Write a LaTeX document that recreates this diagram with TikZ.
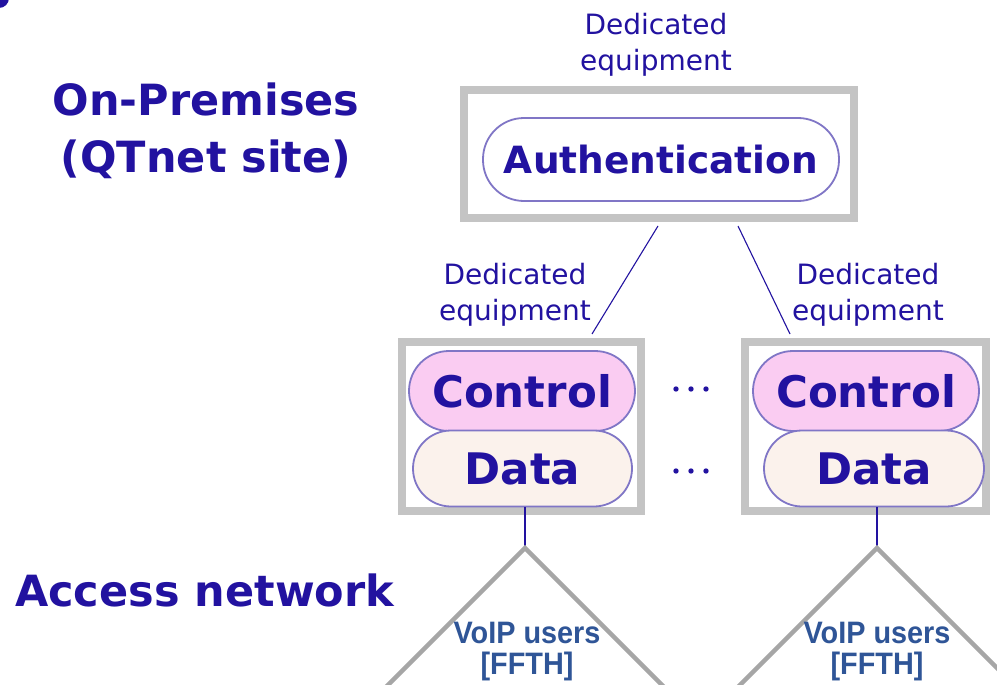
\documentclass[tikz,border=0pt]{standalone}
\usepackage{fontspec}
\setmainfont{DejaVu Sans}
\newfontfamily\userfont[FakeStretch=0.93]{Liberation Sans}
\usetikzlibrary{calc}
\definecolor{inkblue}{RGB}{34,18,160}
\definecolor{pillline}{RGB}{128,118,198}
\definecolor{boxgray}{RGB}{196,196,196}
\definecolor{trigray}{RGB}{166,166,166}
\definecolor{ctrlfill}{RGB}{250,204,242}
\definecolor{datafill}{RGB}{251,242,236}
\definecolor{userblue}{RGB}{47,85,151}
\tikzset{
  x=1pt, y=-1pt,
  graybox/.style={draw=boxgray, line width=8pt, fill=white, inner sep=0pt},
  pill/.style={draw=pillline, line width=1.8pt, inner sep=0pt,
    text=inkblue, font=\fontsize{43.5}{50}\selectfont\bfseries},
  smalllabel/.style={text=inkblue, align=center, inner sep=0pt,
    font=\fontsize{28}{36}\selectfont},
  biglabel/.style={text=inkblue, align=center, inner sep=0pt,
    font=\fontsize{43}{57}\selectfont\bfseries},
  userlabel/.style={text=userblue, align=center, inner sep=0pt,
    font=\userfont\fontsize{31}{31}\selectfont\bfseries},
  link/.style={draw=inkblue, line width=1.1pt},
  trileg/.style={draw=trigray, line width=4.5pt},
  dot/.style={fill=inkblue},
}
\begin{document}
\begin{tikzpicture}
\useasboundingbox (0,0) rectangle (997,685);
\clip (0,0) rectangle (997,685);
\fill[white] (0,0) rectangle (997,685);

% fragment of a glyph at the corner
\fill[inkblue] (-1,-2) circle (10);

% headings
\node[biglabel] (onprem) at (206,131) {On-Premises\\(QTnet site)};
\node[biglabel, anchor=west] (access) at (15,590) {Access network};

% authentication server
\node[smalllabel] (dedtop) at (656,45) {Dedicated\\equipment};
\node[graybox, minimum width=390, minimum height=128] (authbox) at (659,154) {};
\node[pill, fill=white, minimum width=356, minimum height=83, rounded corners=41,
      font=\fontsize{37.5}{44}\selectfont\bfseries] (auth) at (661,159.5) {Authentication};

% left site
\node[smalllabel] (dedleft) at (515,295) {Dedicated\\equipment};
\node[graybox, minimum width=239, minimum height=169] (lbox) at (521.5,426.5) {};
\node[pill, fill=ctrlfill, minimum width=226, minimum height=80, rounded corners=40] (lctrl) at (522,391) {Control};
\node[pill, fill=datafill, minimum width=219, minimum height=76, rounded corners=38] (ldata) at (522.5,468.5) {Data};

% right site
\node[smalllabel] (dedright) at (868,295) {Dedicated\\equipment};
\node[graybox, minimum width=241, minimum height=169] (rbox) at (865.5,426.5) {};
\node[pill, fill=ctrlfill, minimum width=226, minimum height=80, rounded corners=40] (rctrl) at (866,391) {Control};
\node[pill, fill=datafill, minimum width=220, minimum height=76, rounded corners=38] (rdata) at (874,468.5) {Data};

% ellipses between the sites
\foreach \dx in {676,691,706} {
  \fill[dot] (\dx,389) circle (2.7);
  \fill[dot] (\dx,471) circle (2.7);
}

% links from authentication to the sites
\coordinate (aL) at ($(authbox.south)+(-1,4)$);
\coordinate (aR) at ($(authbox.south)+(79,4)$);
\coordinate (lT) at ($(lbox.north)+(70.5,-4)$);
\coordinate (rT) at ($(rbox.north)+(-75.5,-4)$);
\draw[link] (aL) -- (lT);
\draw[link] (aR) -- (rT);

% access network triangles
\coordinate (apexL) at (525,548);
\coordinate (apexR) at (877,548);
\draw[link] (ldata.south -| apexL) -- (apexL);
\draw[link] (rdata.south -| apexR) -- (apexR);
\draw[trileg, line join=miter] ($(apexL)+(-150,150)$) -- (apexL) -- ($(apexL)+(150,150)$);
\draw[trileg, line join=miter] ($(apexR)+(-150,150)$) -- (apexR) -- ($(apexR)+(150,150)$);
\node[userlabel] (usersL) at (527,652) {VoIP users\\{[}FFTH{]}};
\node[userlabel] (usersR) at (877,652) {VoIP users\\{[}FFTH{]}};
\end{tikzpicture}
\end{document}
